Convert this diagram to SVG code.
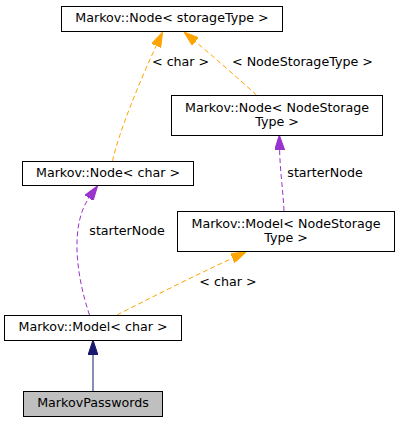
<svg xmlns="http://www.w3.org/2000/svg" width="401" height="423" viewBox="0 0 401 423">
<style>
  .box { fill: #ffffff; stroke: #000000; stroke-width: 1; }
  .cur { fill: #bfbfbf; stroke: #000000; stroke-width: 1; }
  text { font-family: "DejaVu Sans", "Noto Sans", sans-serif; font-size: 12.67px; fill: #000000; }
  .c { text-anchor: middle; }
  .e { fill: none; stroke-width: 1; }
  .tmpl { stroke: #ffa500; stroke-dasharray: 5,3; }
  .use { stroke: #9a32cd; stroke-dasharray: 5,3; }
  .inh { stroke: #191970; }
</style>
<defs>
  <marker id="aOrange" viewBox="0 0 15 10" refX="0" refY="5" markerWidth="15" markerHeight="10" markerUnits="userSpaceOnUse" orient="auto">
    <path d="M0,0 L15,5 L0,10 Z" fill="#ffa500" stroke="#ffa500" stroke-width="1"/>
  </marker>
  <marker id="aPurple" viewBox="0 0 15 10" refX="0" refY="5" markerWidth="15" markerHeight="10" markerUnits="userSpaceOnUse" orient="auto">
    <path d="M0,0 L15,5 L0,10 Z" fill="#9a32cd" stroke="#9a32cd" stroke-width="1"/>
  </marker>
  <marker id="aNavy" viewBox="0 0 15 10" refX="0" refY="5" markerWidth="15" markerHeight="10" markerUnits="userSpaceOnUse" orient="auto">
    <path d="M0,0 L15,5 L0,10 Z" fill="#191970" stroke="#191970" stroke-width="1"/>
  </marker>
</defs>
<rect width="401" height="423" fill="#ffffff"/>

<g id="connectors">
  <path class="e tmpl" d="M112.5,161 C118,135 138,85 156.2,45.8" marker-end="url(#aOrange)"/>
  <text x="152" y="66">&lt; char &gt;</text>
  <path class="e tmpl" d="M256.5,95 C240,80 215,58 195.5,41.7" marker-end="url(#aOrange)"/>
  <text x="232" y="66">&lt; NodeStorageType &gt;</text>
  <path class="e use" d="M284,211 C283,190 280,170 279.6,150" marker-end="url(#aPurple)"/>
  <text x="287.3" y="177">starterNode</text>
  <path class="e use" d="M89.5,315 C76,275 70,225 89,198" marker-end="url(#aPurple)"/>
  <text x="89.3" y="234.5">starterNode</text>
  <path class="e tmpl" d="M117,315 C150,298 200,273 232.4,258.2" marker-end="url(#aOrange)"/>
  <text x="199.3" y="286">&lt; char &gt;</text>
  <path class="e inh" d="M93,391 L93,355" marker-end="url(#aNavy)"/>
</g>

<g id="node_storageType">
  <rect class="box" x="61.5" y="6.5" width="221" height="25"/>
  <text class="c" x="172" y="22">Markov::Node&lt; storageType &gt;</text>
</g>
<g id="node_NodeStorageType">
  <rect class="box" x="171.5" y="95.5" width="211" height="40"/>
  <text class="c" x="277" y="111.5">Markov::Node&lt; NodeStorage</text>
  <text class="c" x="277" y="126">Type &gt;</text>
</g>
<g id="node_char">
  <rect class="box" x="22.5" y="161.5" width="171" height="24"/>
  <text class="c" x="108" y="177">Markov::Node&lt; char &gt;</text>
</g>
<g id="model_NodeStorageType">
  <rect class="box" x="177.5" y="211.5" width="217" height="40"/>
  <text class="c" x="286" y="227.5">Markov::Model&lt; NodeStorage</text>
  <text class="c" x="286" y="242">Type &gt;</text>
</g>
<g id="model_char">
  <rect class="box" x="4.5" y="315.5" width="177" height="25"/>
  <text class="c" x="93" y="331">Markov::Model&lt; char &gt;</text>
</g>
<g id="markov_passwords">
  <rect class="cur" x="23.5" y="391.5" width="139" height="25"/>
  <text class="c" x="93" y="407">MarkovPasswords</text>
</g>
</svg>
